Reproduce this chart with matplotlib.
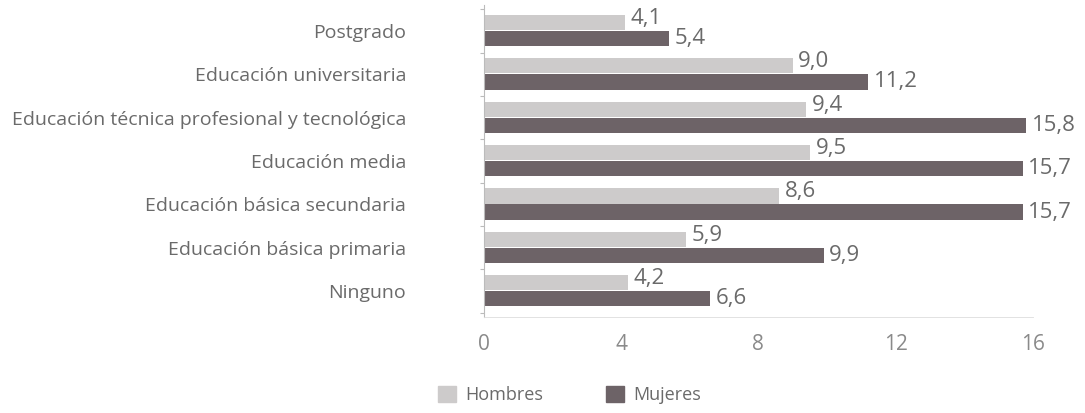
import numpy as np
import matplotlib.pyplot as plt
from matplotlib.patches import Patch

categorias = ['Postgrado', 'Educación universitaria',
              'Educación técnica profesional y tecnológica', 'Educación media',
              'Educación básica secundaria', 'Educación básica primaria', 'Ninguno']
hombres = [4.1, 9.0, 9.4, 9.5, 8.6, 5.9, 4.2]
mujeres = [5.4, 11.2, 15.8, 15.7, 15.7, 9.9, 6.6]
xticks = [0, 4, 8, 12, 16]

color_h = '#cdcbcb'
color_m = '#6d6367'
color_txt = '#6a6a6a'

plt.rcParams['font.family'] = ['Open Sans', 'DejaVu Sans']

fig = plt.figure(figsize=(10.85, 4.13), dpi=100)
ax = fig.add_axes([0.446, 0.232, 0.506, 0.756])

y = np.arange(len(categorias))
h = 0.35
ax.barh(y - h / 2 - 0.02, hombres, height=h, color=color_h)
ax.barh(y + h / 2, mujeres, height=h, color=color_m)

for i in range(len(categorias)):
    ax.annotate(f'{hombres[i]:.1f}'.replace('.', ','), (hombres[i], y[i] - h / 2 - 0.02),
                xytext=(4, 3), textcoords='offset points', va='center', ha='left',
                fontsize=16, color=color_txt, annotation_clip=False)
    ax.annotate(f'{mujeres[i]:.1f}'.replace('.', ','), (mujeres[i], y[i] + h / 2),
                xytext=(4, 0), textcoords='offset points', va='center', ha='left',
                fontsize=16, color=color_txt, annotation_clip=False)

ax.set_ylim(len(categorias) - 0.4, -0.6)
ax.set_xlim(0, 16)
ax.set_yticks(y)
ax.set_yticklabels(categorias, fontsize=14, color=color_txt)
ax.set_yticks(np.arange(-0.5, len(categorias), 1), minor=True)
ax.tick_params(axis='y', which='major', length=0, pad=56)
ax.tick_params(axis='y', which='minor', length=3, color='#bbbbbb', width=0.8)
ax.set_xticks(xticks)
ax.set_xticklabels([str(t) for t in xticks], fontsize=15, color='#8a8a8a')
ax.tick_params(axis='x', length=0, pad=12)

for s in ['top', 'right']:
    ax.spines[s].set_visible(False)
ax.spines['left'].set_color('#bbbbbb')
ax.spines['left'].set_linewidth(0.8)
ax.spines['bottom'].set_color('#dddddd')
ax.spines['bottom'].set_linewidth(0.6)

handles = [Patch(color=color_h), Patch(color=color_m)]
fig.legend(handles, ['Hombres', 'Mujeres'], loc='center', bbox_to_anchor=(0.525, 0.043),
           ncol=2, frameon=False, fontsize=13, labelcolor=color_txt,
           handlelength=1.0, handleheight=1.0, columnspacing=3.5, handletextpad=0.5)

fig.savefig('out.png', dpi=100)
